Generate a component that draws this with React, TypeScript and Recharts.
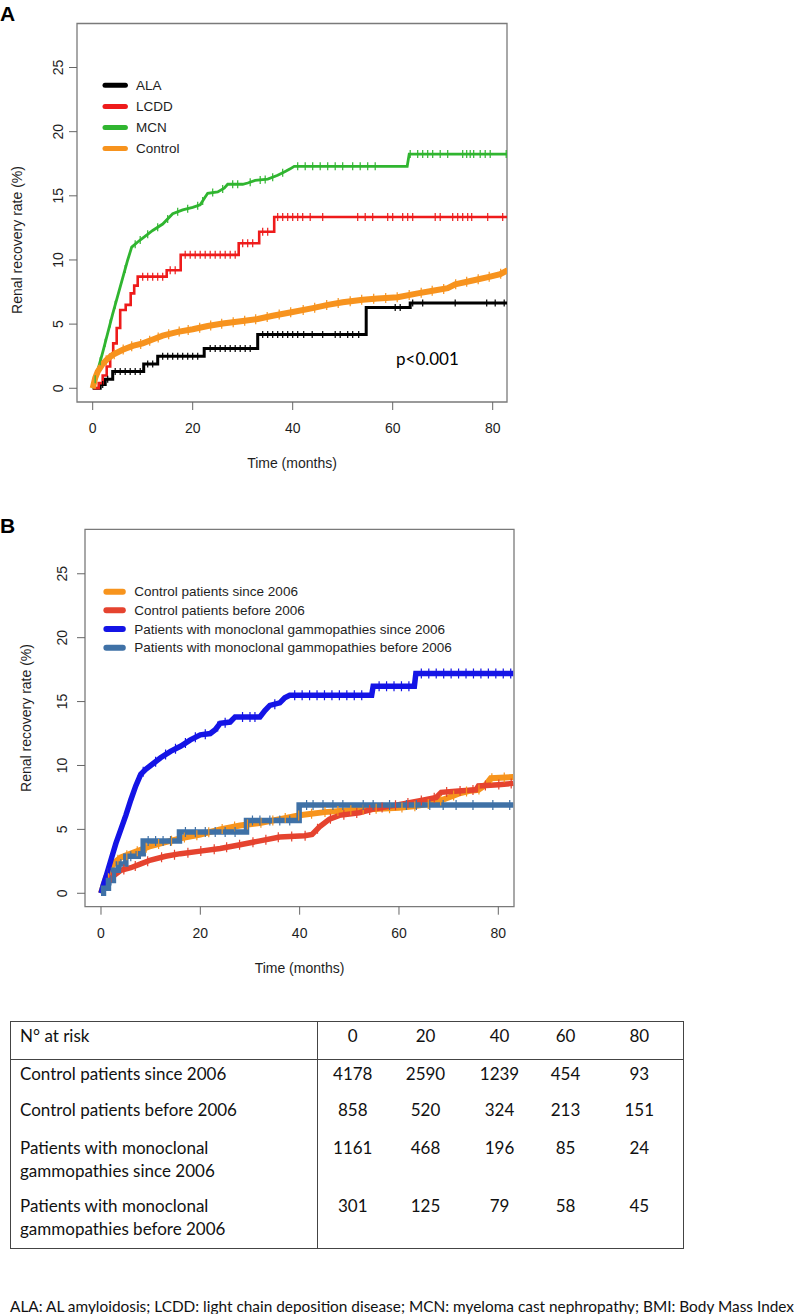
import React from "react";
import {
  ComposedChart,
  Line,
  ReferenceArea,
  Scatter,
  XAxis,
  YAxis,
} from "recharts";

type Pt = [number, number];

// ---- Panel A: renal recovery (%) by month, Kaplan-Meier
const ALA: Pt[] = [
  [0, 0], [1.5, 0.3], [2.5, 0.7], [4, 1.3], [10.2, 1.9], [13, 2.5],
  [22.3, 3.1], [33, 4.2], [54.7, 6.3], [63.5, 6.65], [83, 6.65],
];
const ALA_CENSOR = [
  2, 3, 4.5, 5.5, 6.5, 7.5, 8.5, 9.5, 11, 12, 14, 15, 16, 17, 18, 19, 20, 21,
  23.5, 24.5, 25.5, 26.5, 27.5, 28.5, 29.5, 30.5, 31.5, 34, 35, 36, 37, 38, 39,
  40, 41, 42.2, 43.9, 46, 48.5, 49.5, 51, 52, 53.2, 60.5, 61.5, 64, 66, 72.5,
  78.8, 80.5, 82.3,
];

const LCDD: Pt[] = [
  [0, 0], [1.2, 0.4], [2, 1], [2.8, 1.7], [3.5, 2.6], [4.1, 3.5], [4.8, 4.7],
  [5.5, 6.1], [6.6, 6.5], [7.6, 7.4], [8.3, 8], [9, 8.7], [14.8, 9.2],
  [17.6, 10.4], [29.2, 11.3], [33.3, 12.2], [36.3, 13.35], [83, 13.35],
];
const LCDD_CENSOR = [
  10, 11, 12, 13, 14, 15.5, 16.5, 18.5, 19.5, 20.5, 21.5, 22.5, 23.5, 24.5,
  25.5, 26.5, 27.5, 28.5, 30, 31, 32, 34, 35, 37, 38, 39, 40, 41, 42, 43.5, 46,
  53, 54.5, 56, 59, 60, 62, 63, 64, 68.5, 69.5, 72, 73, 74, 75, 75.8, 79, 82,
];

const MCN: Pt[] = [
  [0, 0], [1, 1.4], [2, 2.8], [3, 4.3], [4, 5.8], [5, 7.2], [6, 8.6], [7, 10],
  [7.8, 11], [9, 11.4], [10, 11.7], [12, 12.3], [14, 12.8], [16, 13.6],
  [18, 13.9], [20, 14.1], [21.5, 14.3], [22.5, 14.9], [23, 15.2], [25, 15.3],
  [26.3, 15.6], [27, 15.9], [30, 15.9], [31, 16], [32.5, 16.2], [35, 16.3],
  [37, 16.6], [38.5, 16.9], [39.5, 17.1], [40.3, 17.3], [62.9, 17.3],
  [63.3, 18.25], [83, 18.25],
];
const MCN_CENSOR = [
  0.5, 1.5, 2.5, 3.5, 4.5, 6.5, 8.5, 9.5, 11, 13, 15, 17, 19, 21, 22, 24, 26,
  28, 29, 31.5, 33.5, 34.5, 36, 38, 41, 42.5, 44, 45.5, 47, 48.5, 50, 52, 53.5,
  55, 56.5, 63.5, 65, 66, 67, 68, 69.5, 71, 74, 74.8, 75.5, 76.2, 77.5, 78.5,
  79.5, 82.7,
];

const CONTROL: Pt[] = [
  [0, 0], [0.5, 0.8], [1, 1.3], [2, 1.9], [3, 2.3], [4, 2.6], [6, 3], [8, 3.3],
  [10, 3.5], [12, 3.8], [14, 4.1], [17, 4.4], [20, 4.6], [23, 4.85],
  [26, 5.05], [30, 5.25], [33, 5.4], [36, 5.65], [40, 5.95], [44, 6.25],
  [47, 6.5], [50, 6.7], [54, 6.9], [57, 7], [61, 7.1], [65, 7.4], [68, 7.6],
  [71, 7.8], [72.5, 8.1], [76, 8.4], [79.5, 8.7], [81.5, 8.9], [83, 9.2],
];
const CONTROL_CENSOR = [
  1.2, 2.7, 4.3, 6.1, 7.8, 9.6, 11.4, 13.1, 15.2, 17.3, 19.1, 21.4, 23.6, 25.8,
  28.1, 30.4, 32.6, 34.9, 37.3, 39.6, 42.1, 44.4, 46.8, 49.1, 51.5, 53.8, 56.2,
  58.6, 60.9, 63.3, 65.7, 67.9, 70.2, 72.6, 74.8, 77.1, 79.3, 81.6,
];

// ---- Panel B: by period of diagnosis
const CTRL_SINCE: Pt[] = [
  [0, 0], [1, 1.2], [2, 2], [3, 2.5], [4, 2.8], [6, 3.1], [8, 3.4], [10, 3.7],
  [13, 4], [16, 4.3], [20, 4.6], [24, 5], [28, 5.3], [32, 5.5], [36, 5.8],
  [40, 6.1], [45, 6.35], [50, 6.5], [55, 6.6], [60, 6.7], [63, 6.8], [66, 7],
  [68, 7.2], [70, 7.5], [72, 7.8], [74, 8], [76, 8.1], [77.5, 8.5], [78.5, 9],
  [83, 9.1],
];
const CTRL_SINCE_CENSOR = [
  1.5, 3.4, 5.2, 7.3, 9.1, 11.6, 14.2, 16.8, 19.3, 21.7, 24.4, 26.9, 29.5, 32.2,
  34.6, 37.1, 39.8, 42.4, 45.1, 47.7, 50.3, 52.8, 55.4, 58.1, 60.6, 63.2, 65.9,
  68.4, 71, 73.6, 76.1, 78.7, 81.2,
];

const CTRL_BEFORE: Pt[] = [
  [0, 0], [1, 0.6], [2, 1.2], [3, 1.5], [4, 1.8], [6, 2], [8, 2.3], [10, 2.6],
  [13, 2.9], [16, 3.1], [20, 3.3], [24, 3.5], [28, 3.8], [32, 4.1], [36, 4.4],
  [41, 4.5], [42.5, 4.6], [44, 5.2], [46, 5.8], [48, 6.1], [52, 6.3],
  [55, 6.6], [58, 6.8], [61, 7], [65, 7.3], [67.5, 7.5], [68.5, 7.9], [72, 8],
  [75.5, 8.1], [76, 8.4], [80, 8.5], [83, 8.6],
];
const CTRL_BEFORE_CENSOR = [
  2.1, 4.6, 6.9, 9.4, 12.2, 14.8, 17.5, 20.1, 22.8, 25.3, 27.9, 30.6, 33.2,
  35.7, 38.4, 41.1, 43.6, 46.2, 48.9, 51.5, 54.1, 56.6, 59.3, 61.8, 64.5, 67.1,
  69.6, 72.3, 74.9, 77.4, 80.1, 82.6,
];

const MG_SINCE: Pt[] = [
  [0, 0], [0.5, 0.7], [1, 1.3], [2, 2.6], [3, 3.9], [4, 5], [5, 6.1], [6, 7.3],
  [7, 8.4], [8, 9.3], [9, 9.7], [10, 10], [12, 10.6], [14, 11.1], [16, 11.5],
  [18, 12], [20, 12.4], [22, 12.5], [23, 12.8], [24, 13.3], [26, 13.4],
  [27, 13.8], [32, 13.8], [33, 14.3], [34, 14.7], [36, 14.9], [37, 15.3],
  [38, 15.5], [54.5, 15.5], [54.8, 16.2], [63.1, 16.2], [63.4, 17.2],
  [83, 17.2],
];
const MG_SINCE_CENSOR = [
  1.5, 2.5, 3.5, 4.5, 5.5, 6.5, 7.5, 8.5, 11, 13, 15, 17, 19, 21, 23.5, 25,
  28.5, 30, 31, 35, 39, 40.5, 42, 43.5, 45, 46.5, 48, 49.5, 51, 52.5, 56, 57.5,
  59, 60.5, 62, 64.5, 66, 67.5, 69, 70.5, 72, 73.5, 75, 76.5, 78, 79.5, 81,
  82.5,
];

const MG_BEFORE: Pt[] = [
  [0, 0], [0.5, 0.4], [1.5, 1], [2.5, 1.8], [3.5, 2.3], [5, 2.9], [7.5, 3.1],
  [8.5, 4.1], [15.8, 4.8], [29.3, 5.7], [39.9, 6.9], [83, 6.9],
];
const MG_BEFORE_CENSOR = [
  2, 4, 6, 9.5, 11, 12.5, 14, 17, 19, 21, 23, 25, 27, 30.5, 32, 34, 36, 38,
  41.4, 42.7, 44.7, 46.7, 48.7, 52.8, 54.8, 58.1, 61.5, 63.5, 66.2, 68.9,
  71.5, 74.9, 78.9, 82.3,
];

// ---- N at risk table
const RISK_TIMES = [0, 20, 40, 60, 80];
const RISK_LABELS = [
  "Control patients since 2006",
  "Control patients before 2006",
  "Patients with monoclonal gammopathies since 2006",
  "Patients with monoclonal gammopathies before 2006",
];
const RISK_CTRL_SINCE = [4178, 2590, 1239, 454, 93];
const RISK_CTRL_BEFORE = [858, 520, 324, 213, 151];
const RISK_MG_SINCE = [1161, 468, 196, 85, 24];
const RISK_MG_BEFORE = [301, 125, 79, 58, 45];

const X_TICKS = [0, 20, 40, 60, 80];
const Y_TICKS = [0, 5, 10, 15, 20, 25];

const FOOTNOTE =
  "ALA: AL amyloidosis; LCDD: light chain deposition disease; MCN: myeloma cast nephropathy; BMI: Body Mass Index";

const SANS = '"Liberation Sans", Arial, sans-serif';
const BODY = 'Lato, "Open Sans", sans-serif';
const AXIS_TEXT = "#1e1e1e";

interface Series {
  name: string;
  color: string;
  curve: Pt[];
  censor: number[];
  step: boolean;
  width: number;
  tick: number; // half height of censor mark
}

const SERIES_A: Series[] = [
  { name: "ALA", color: "#000000", curve: ALA, censor: ALA_CENSOR, step: true, width: 3, tick: 3.5 },
  { name: "LCDD", color: "#ee1b1b", curve: LCDD, censor: LCDD_CENSOR, step: true, width: 2.6, tick: 4 },
  { name: "MCN", color: "#30b530", curve: MCN, censor: MCN_CENSOR, step: false, width: 2.8, tick: 4 },
  { name: "Control", color: "#f7931e", curve: CONTROL, censor: CONTROL_CENSOR, step: false, width: 6, tick: 5 },
];

const SERIES_B: Series[] = [
  { name: "Control patients since 2006", color: "#f7941d", curve: CTRL_SINCE, censor: CTRL_SINCE_CENSOR, step: false, width: 6, tick: 5 },
  { name: "Control patients before 2006", color: "#e5432f", curve: CTRL_BEFORE, censor: CTRL_BEFORE_CENSOR, step: false, width: 5.5, tick: 5 },
  { name: "Patients with monoclonal gammopathies since 2006", color: "#1414e6", curve: MG_SINCE, censor: MG_SINCE_CENSOR, step: false, width: 5.5, tick: 5 },
  { name: "Patients with monoclonal gammopathies before 2006", color: "#3f71a6", curve: MG_BEFORE, censor: MG_BEFORE_CENSOR, step: true, width: 5.5, tick: 5 },
];

// value of a curve at time t (step function or straight segments)
function valueAt(curve: Pt[], t: number, step: boolean) {
  for (let i = curve.length - 1; i >= 0; i--) {
    const [x, y] = curve[i];
    if (x <= t) {
      if (step || i === curve.length - 1) return y;
      const [x2, y2] = curve[i + 1];
      return y + ((y2 - y) * (t - x)) / (x2 - x);
    }
  }
  return 0;
}

interface PanelLayout {
  top: number;
  plot: { left: number; top: number; right: number; bottom: number };
  xDomain: [number, number];
  yDomain: [number, number];
  yTickMargin: number;
}

const CHART_W = 540;
const CHART_H = 480;
const Y_AXIS_W = 40;
const X_AXIS_H = 40;

const PANEL_A: PanelLayout = {
  top: 0,
  plot: { left: 77, top: 23.5, right: 507, bottom: 402 },
  xDomain: [-3.14, 82.86],
  yDomain: [-1.07, 28.43],
  yTickMargin: 6,
};
const PANEL_B: PanelLayout = {
  top: 500,
  plot: { left: 85, top: 29.3, right: 514, bottom: 406.7 },
  xDomain: [-3.22, 83.16],
  yDomain: [-1.05, 28.48],
  yTickMargin: 10,
};

const YTick = (props: any) => {
  const { x, y, payload } = props;
  return (
    <text
      x={x}
      y={y}
      transform={`rotate(-90 ${x} ${y})`}
      textAnchor="middle"
      fontSize={14}
      fontFamily={SANS}
      fill={AXIS_TEXT}
    >
      {payload.value}
    </text>
  );
};

function KMPanel({ series, layout }: { series: Series[]; layout: PanelLayout }) {
  const { plot, xDomain, yDomain } = layout;
  return (
    <div style={{ position: "absolute", left: 0, top: layout.top }}>
      <ComposedChart
        width={CHART_W}
        height={CHART_H}
        margin={{
          top: plot.top,
          left: plot.left - Y_AXIS_W,
          right: CHART_W - plot.right,
          bottom: CHART_H - plot.bottom - X_AXIS_H,
        }}
      >
        <XAxis
          type="number"
          dataKey="x"
          domain={xDomain}
          ticks={X_TICKS}
          allowDataOverflow
          axisLine={false}
          tickSize={8}
          tickMargin={13}
          height={X_AXIS_H}
          tickLine={{ stroke: "#666" }}
          tick={{ fontSize: 14, fontFamily: SANS, fill: AXIS_TEXT }}
        />
        <YAxis
          type="number"
          dataKey="y"
          domain={yDomain}
          ticks={Y_TICKS}
          allowDataOverflow
          axisLine={false}
          tickSize={8}
          tickMargin={layout.yTickMargin}
          width={Y_AXIS_W}
          tickLine={{ stroke: "#666" }}
          tick={YTick}
        />
        <ReferenceArea
          x1={xDomain[0]}
          x2={xDomain[1]}
          y1={yDomain[0]}
          y2={yDomain[1]}
          fill="none"
          stroke="#7a7a7a"
          strokeWidth={1.3}
          ifOverflow="visible"
        />
        {series.flatMap((s) => [
          <Line
            key={s.name + "-line"}
            data={s.curve.map(([x, y]) => ({ x, y }))}
            dataKey="y"
            type={s.step ? "stepAfter" : "linear"}
            stroke={s.color}
            strokeWidth={s.width}
            dot={false}
            activeDot={false}
            isAnimationActive={false}
          />,
          <Scatter
            key={s.name + "-censor"}
            data={s.censor.map((t) => ({ x: t, y: valueAt(s.curve, t, s.step) }))}
            dataKey="y"
            isAnimationActive={false}
            shape={(p: any) => (
              <line
                x1={p.cx}
                x2={p.cx}
                y1={p.cy - s.tick}
                y2={p.cy + s.tick}
                stroke={s.color}
                strokeWidth={1.2}
              />
            )}
          />,
        ])}
      </ComposedChart>
    </div>
  );
}

// text and legends drawn over the two plots
function Annotations() {
  const legendA = [85.3, 106.6, 127.5, 148.4];
  const legendB = [591.7, 610.3, 629, 647.7];
  return (
    <svg
      width={797}
      height={1000}
      style={{ position: "absolute", left: 0, top: 0, pointerEvents: "none" }}
    >
      <g fontFamily={SANS} fill={AXIS_TEXT}>
        <text x={0} y={21.3} fontSize={21} fontWeight="bold" fill="#000">A</text>
        <text x={0} y={533} fontSize={21} fontWeight="bold" fill="#000">B</text>

        <text x={292} y={463} fontSize={14} textAnchor="middle" dominantBaseline="central">
          Time (months)
        </text>
        <text x={299.5} y={968} fontSize={14} textAnchor="middle" dominantBaseline="central">
          Time (months)
        </text>
        <text
          x={17}
          y={240}
          fontSize={14}
          textAnchor="middle"
          dominantBaseline="central"
          transform="rotate(-90 17 240)"
        >
          Renal recovery rate (%)
        </text>
        <text
          x={26}
          y={718}
          fontSize={14}
          textAnchor="middle"
          dominantBaseline="central"
          transform="rotate(-90 26 718)"
        >
          Renal recovery rate (%)
        </text>

        {SERIES_A.map((s, i) => (
          <g key={s.name}>
            <line x1={105} x2={125.4} y1={legendA[i]} y2={legendA[i]} stroke={s.color} strokeWidth={5} strokeLinecap="round" />
            <text x={135.9} y={legendA[i]} fontSize={13.5} dominantBaseline="central">{s.name}</text>
          </g>
        ))}
        {SERIES_B.map((s, i) => (
          <g key={s.name}>
            <line x1={106.4} x2={122.8} y1={legendB[i]} y2={legendB[i]} stroke={s.color} strokeWidth={6} strokeLinecap="round" />
            <text x={134.3} y={legendB[i]} fontSize={13.5} dominantBaseline="central">{s.name}</text>
          </g>
        ))}
      </g>
      <text x={396} y={358.4} fontSize={17} fontFamily={BODY} fill="#000" dominantBaseline="central">
        p&lt;0.001
      </text>
    </svg>
  );
}

function RiskTable() {
  const rows = [RISK_CTRL_SINCE, RISK_CTRL_BEFORE, RISK_MG_SINCE, RISK_MG_BEFORE];
  const rowHeights = [37, 38, 58, 56];
  const colWidths = [307, 70, 76, 72, 60, 88];
  const border = "1.5px solid #444";
  const cell: React.CSSProperties = {
    padding: "1.5px 0 0 0",
    verticalAlign: "top",
    textAlign: "center",
  };
  return (
    <table
      style={{
        position: "absolute",
        left: 10,
        top: 1021,
        width: 673,
        borderCollapse: "collapse",
        tableLayout: "fixed",
        border,
        fontFamily: BODY,
        fontSize: 17,
        lineHeight: "23px",
        color: "#111",
      }}
    >
      <colgroup>
        {colWidths.map((w, i) => (
          <col key={i} style={{ width: w }} />
        ))}
      </colgroup>
      <tbody>
        <tr style={{ height: 38, borderBottom: border }}>
          <td style={{ ...cell, textAlign: "left", paddingLeft: 9, borderRight: border }}>N° at risk</td>
          {RISK_TIMES.map((t) => (
            <td key={t} style={cell}>{t}</td>
          ))}
        </tr>
        {rows.map((vals, r) => (
          <tr key={r} style={{ height: rowHeights[r] }}>
            <td style={{ ...cell, textAlign: "left", paddingLeft: 9, paddingRight: 60, borderRight: border }}>
              {RISK_LABELS[r]}
            </td>
            {vals.map((v, i) => (
              <td key={i} style={cell}>{v}</td>
            ))}
          </tr>
        ))}
      </tbody>
    </table>
  );
}

export default function App() {
  return (
    <div
      style={{
        position: "absolute",
        left: 0,
        top: 0,
        width: 797,
        height: 1314,
        background: "#fff",
        overflow: "hidden",
      }}
    >
      <KMPanel series={SERIES_A} layout={PANEL_A} />
      <KMPanel series={SERIES_B} layout={PANEL_B} />
      <Annotations />
      <RiskTable />
      <div
        style={{
          position: "absolute",
          left: 10,
          top: 1294.5,
          lineHeight: "23px",
          fontFamily: BODY,
          fontSize: 15.4,
          whiteSpace: "nowrap",
          color: "#111",
        }}
      >
        {FOOTNOTE}
      </div>
    </div>
  );
}
